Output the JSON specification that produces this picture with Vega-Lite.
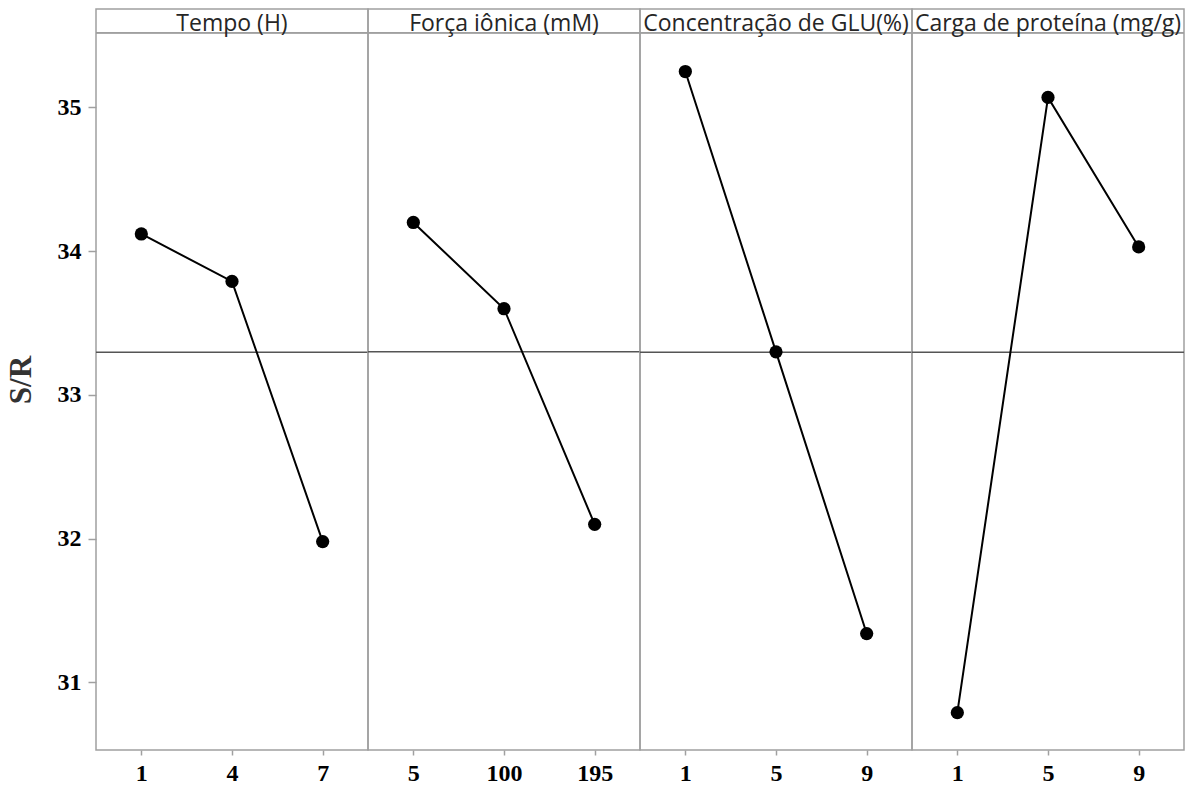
{
  "$schema": "https://vega.github.io/schema/vega-lite/v6.json",
  "padding": {"left": 5, "top": 8, "right": 10, "bottom": 5},
  "background": "white",
  "bounds": "flush",
  "data": {"values": [
    {"factor": "Tempo (H)", "level": "1", "sr": 34.12},
    {"factor": "Tempo (H)", "level": "4", "sr": 33.79},
    {"factor": "Tempo (H)", "level": "7", "sr": 31.98},
    {"factor": "Força iônica (mM)", "level": "5", "sr": 34.20},
    {"factor": "Força iônica (mM)", "level": "100", "sr": 33.60},
    {"factor": "Força iônica (mM)", "level": "195", "sr": 32.10},
    {"factor": "Concentração de GLU(%)", "level": "1", "sr": 35.25},
    {"factor": "Concentração de GLU(%)", "level": "5", "sr": 33.30},
    {"factor": "Concentração de GLU(%)", "level": "9", "sr": 31.34},
    {"factor": "Carga de proteína (mg/g)", "level": "1", "sr": 30.79},
    {"factor": "Carga de proteína (mg/g)", "level": "5", "sr": 35.07},
    {"factor": "Carga de proteína (mg/g)", "level": "9", "sr": 34.03}
  ]},
  "facet": {
    "column": {
      "field": "factor",
      "type": "nominal",
      "sort": ["Tempo (H)", "Força iônica (mM)", "Concentração de GLU(%)", "Carga de proteína (mg/g)"],
      "title": null,
      "header": {"labels": false}
    }
  },
  "spacing": 0,
  "resolve": {"scale": {"x": "independent"}},
  "spec": {
    "width": 272,
    "height": 741,
    "layer": [
      {
        "mark": {"type": "rule", "color": "#555555", "strokeWidth": 1.5},
        "encoding": {
          "y": {"aggregate": "mean", "field": "sr", "type": "quantitative", "title": "S/R", "axis": {"values": [31, 32, 33, 34, 35]}, "scale": {"domain": [30.53, 35.685], "nice": false, "zero": false}}
        }
      },
      {
        "mark": {"type": "rule", "color": "#a0a0a0", "strokeWidth": 1.5},
        "encoding": {
          "y": {"datum": 35.52, "type": "quantitative", "title": "S/R", "axis": {"values": [31, 32, 33, 34, 35]}, "scale": {"domain": [30.53, 35.685], "nice": false, "zero": false}}
        }
      },
      {
        "transform": [{"aggregate": [{"op": "count", "as": "n"}], "groupby": ["factor"]}],
        "mark": {"type": "text", "font": "Open Sans", "fontSize": 23, "color": "#262626", "baseline": "alphabetic", "dy": -2},
        "encoding": {
          "y": {"datum": 35.52, "type": "quantitative", "title": "S/R", "axis": {"values": [31, 32, 33, 34, 35]}, "scale": {"domain": [30.53, 35.685], "nice": false, "zero": false}},
          "text": {"field": "factor", "type": "nominal"}
        }
      },
      {
        "mark": {"type": "line", "color": "black", "strokeWidth": 2},
        "encoding": {
          "x": {"field": "level", "type": "ordinal", "sort": ["1", "4", "7", "5", "100", "195", "9"], "title": null},
          "y": {"field": "sr", "type": "quantitative", "title": "S/R", "axis": {"values": [31, 32, 33, 34, 35]}, "scale": {"domain": [30.53, 35.685], "nice": false, "zero": false}}
        }
      },
      {
        "mark": {"type": "point", "filled": true, "color": "black", "size": 175, "opacity": 1},
        "encoding": {
          "x": {"field": "level", "type": "ordinal", "sort": ["1", "4", "7", "5", "100", "195", "9"], "title": null},
          "y": {"field": "sr", "type": "quantitative", "title": "S/R", "axis": {"values": [31, 32, 33, 34, 35]}, "scale": {"domain": [30.53, 35.685], "nice": false, "zero": false}}
        }
      }
    ]
  },
  "config": {
    "view": {"stroke": "#a0a0a0", "strokeWidth": 1.5},
    "axisX": {"labelAngle": 0, "labelFont": "Liberation Serif", "labelFontWeight": "bold", "labelFontSize": 24, "labelColor": "black", "tickColor": "#a0a0a0", "tickSize": 5, "tickWidth": 1.5, "domain": false, "labelPadding": 6, "grid": false},
    "axisY": {"labelFont": "Liberation Serif", "labelFontWeight": "bold", "labelFontSize": 24, "labelColor": "black", "tickColor": "#a0a0a0", "tickSize": 8, "tickWidth": 1.5, "domain": false, "grid": false, "labelPadding": 7, "titleFont": "Liberation Serif", "titleFontSize": 31, "titleFontWeight": "bold", "titleColor": "#333333", "titlePadding": 20}
  }
}
